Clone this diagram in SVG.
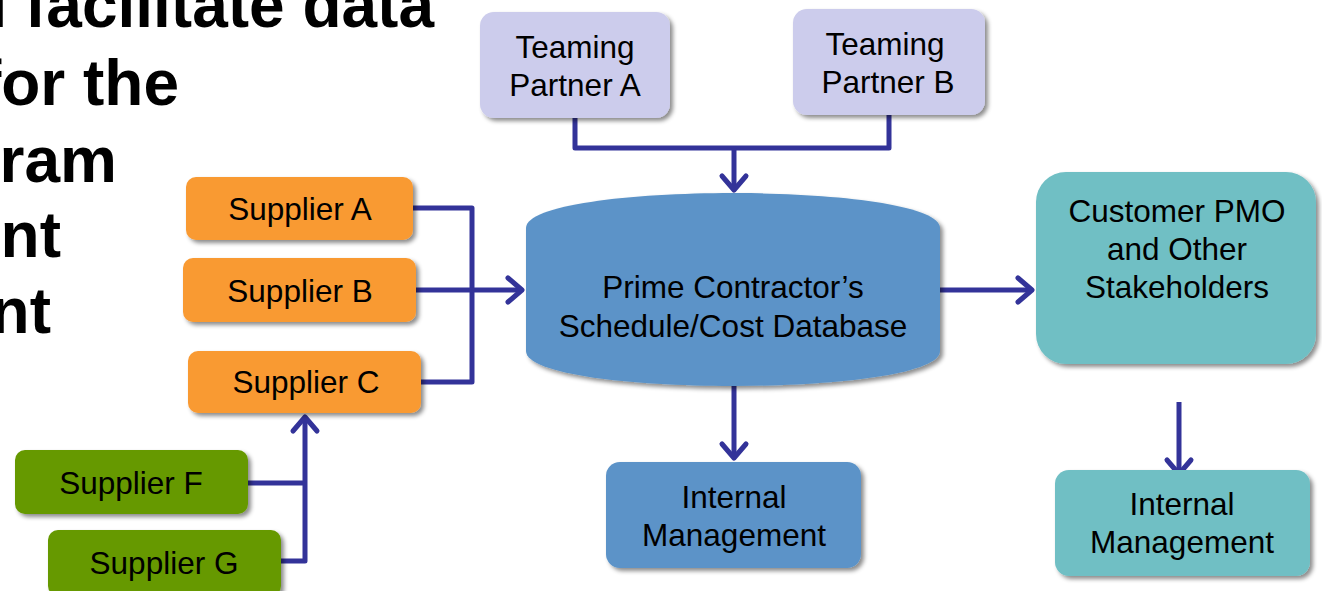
<svg xmlns="http://www.w3.org/2000/svg" width="1322" height="591" viewBox="0 0 1322 591">
<style>
.t{font-family:"Liberation Sans",Arial,sans-serif;font-size:31.5px;fill:#000;text-anchor:middle}
.h{font-family:"Liberation Sans",Arial,sans-serif;font-size:64px;font-weight:bold;fill:#000;text-anchor:end}
.c{fill:none;stroke:#333399;stroke-width:5;stroke-linejoin:round}
.a{fill:none;stroke:#333399;stroke-width:5;stroke-linecap:round;stroke-linejoin:round}
.or{fill:#F99A33}
.gr{fill:#669900}
.lv{fill:#CCCCEC}
.bl{fill:#5B93C8}
.tl{fill:#70BFC4}
</style>
<defs>
<filter id="sh" x="-10%" y="-10%" width="125%" height="130%">
<feDropShadow dx="3" dy="3" stdDeviation="2" flood-color="#000" flood-opacity="0.45"/>
</filter>
</defs>
<g id="heading">
<text class="h" x="434" y="27">l facilitate data</text>
<text class="h" x="179" y="105">for the</text>
<text class="h" x="117" y="182">ram</text>
<text class="h" x="61" y="257">ent</text>
<text class="h" x="51" y="333">nt</text>
</g>
<g id="connectors">
<path class="c" d="M575,118 V148 H889 V115"/>
<path class="c" d="M734,148 V190"/>
<path class="a" d="M722,176 L734,190 L746,176"/>
<path class="c" d="M413,208 H472 V382 H421"/>
<path class="c" d="M416,290 H522"/>
<path class="a" d="M508,278 L522,290 L508,302"/>
<path class="c" d="M248,483 H305"/>
<path class="c" d="M281,561 H305 V417"/>
<path class="a" d="M293,431 L305,417 L317,431"/>
<path class="c" d="M734,386 V458"/>
<path class="a" d="M722,444 L734,458 L746,444"/>
<path class="c" d="M940,290 H1032"/>
<path class="a" d="M1018,278 L1032,290 L1018,302"/>
<path class="c" d="M1179,402 V474"/>
<path class="a" d="M1167,460 L1179,474 L1191,460"/>
</g>
<g id="teaming-a">
<rect class="lv" x="480" y="12" width="190" height="106" rx="14" filter="url(#sh)"/>
<text class="t" x="575" y="58">Teaming</text>
<text class="t" x="575" y="96">Partner A</text>
</g>
<g id="teaming-b">
<rect class="lv" x="793" y="9" width="192" height="106" rx="14" filter="url(#sh)"/>
<text class="t" x="885" y="55">Teaming</text>
<text class="t" x="888" y="93">Partner B</text>
</g>
<g id="supplier-a">
<rect class="or" x="186" y="177" width="227" height="63" rx="10" filter="url(#sh)"/>
<text class="t" x="300" y="220">Supplier A</text>
</g>
<g id="supplier-b">
<rect class="or" x="183" y="258" width="233" height="64" rx="10" filter="url(#sh)"/>
<text class="t" x="300" y="302">Supplier B</text>
</g>
<g id="supplier-c">
<rect class="or" x="188" y="351" width="233" height="62" rx="10" filter="url(#sh)"/>
<text class="t" x="306" y="393">Supplier C</text>
</g>
<g id="supplier-f">
<rect class="gr" x="15" y="450" width="233" height="64" rx="10" filter="url(#sh)"/>
<text class="t" x="131" y="494">Supplier F</text>
</g>
<g id="supplier-g">
<rect class="gr" x="48" y="530" width="233" height="66" rx="10" filter="url(#sh)"/>
<text class="t" x="164" y="574">Supplier G</text>
</g>
<g id="database">
<path class="bl" d="M526,228 C526,205 630,193 733,193 C836,193 940,205 940,228 L940,351 C940,374 836,386 733,386 C630,386 526,374 526,351 Z" filter="url(#sh)"/>
<text class="t" x="733" y="298">Prime Contractor’s</text>
<text class="t" x="733" y="337">Schedule/Cost Database</text>
</g>
<g id="internal-mgmt-1">
<rect class="bl" x="606" y="462" width="255" height="106" rx="14" filter="url(#sh)"/>
<text class="t" x="734" y="508">Internal</text>
<text class="t" x="734" y="546">Management</text>
</g>
<g id="customer-pmo">
<rect class="tl" x="1036" y="172" width="280" height="192" rx="30" filter="url(#sh)"/>
<text class="t" x="1177" y="222">Customer PMO</text>
<text class="t" x="1177" y="260">and Other</text>
<text class="t" x="1177" y="298">Stakeholders</text>
</g>
<g id="internal-mgmt-2">
<rect class="tl" x="1055" y="470" width="255" height="106" rx="14" filter="url(#sh)"/>
<text class="t" x="1182" y="515">Internal</text>
<text class="t" x="1182" y="553">Management</text>
</g>
</svg>
